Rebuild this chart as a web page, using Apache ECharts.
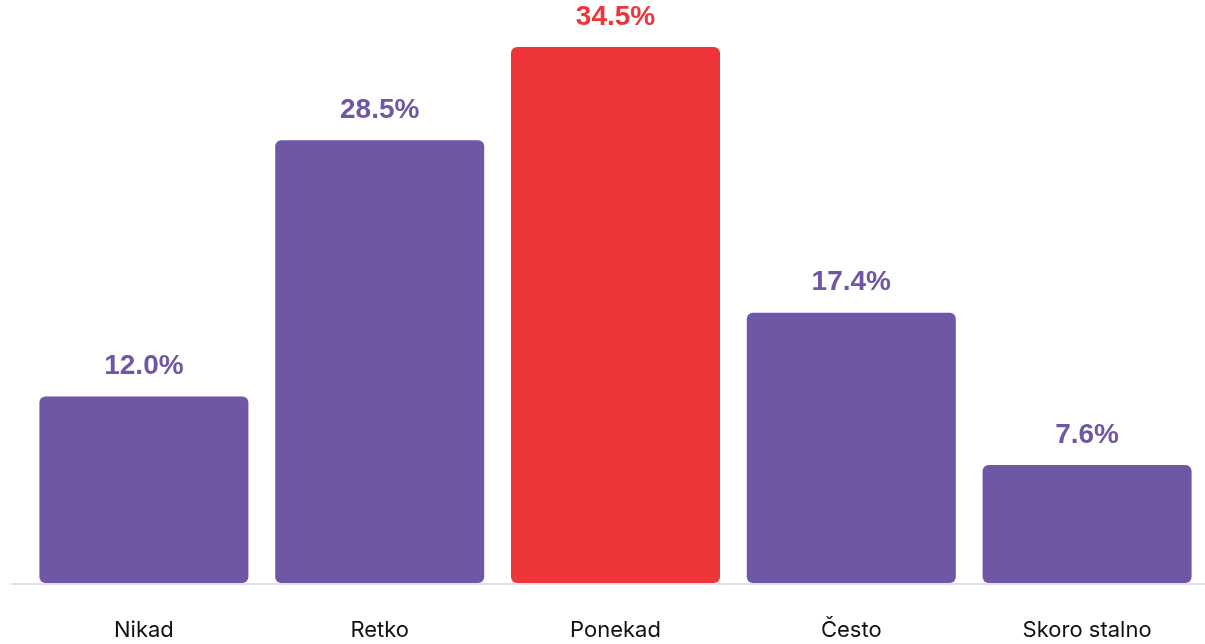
<!DOCTYPE html>
<html><head><meta charset="utf-8">
<style>html,body{margin:0;padding:0;background:#fff}#c{width:1205px;height:644px}</style>
<script src="https://cdn.jsdelivr.net/npm/echarts@6/dist/echarts.min.js"></script>
</head><body><div id="c"></div>
<script>
const categories = ['Nikad', 'Retko', 'Ponekad', 'Često', 'Skoro stalno'];
const values = [12.0, 28.5, 34.5, 17.4, 7.6];
const highlightIndex = 2;
const purple = '#6f57a6', red = '#ee3539';
const chart = echarts.init(document.getElementById('c'));
chart.setOption({
  animation: false,
  grid: [
    {left: 26, right: 0, top: 47, bottom: 61, containLabel: false},
    {left: 12, right: 0, top: 47, bottom: 60, containLabel: false}
  ],
  xAxis: [
    {type: 'category', data: categories, gridIndex: 0,
     axisLine: {show: false}, axisTick: {show: false},
     axisLabel: {color: '#111', fontSize: 22, fontFamily: 'Inter', margin: 36}},
    {type: 'category', data: [''], gridIndex: 1,
     axisLine: {show: true, lineStyle: {color: '#e2def0', width: 2}},
     axisTick: {show: false}, axisLabel: {show: false}}
  ],
  yAxis: [
    {type: 'value', min: 0, max: 34.5, show: false, gridIndex: 0, splitLine: {show: false}},
    {type: 'value', show: false, gridIndex: 1, splitLine: {show: false}}
  ],
  series: [{
    type: 'bar', xAxisIndex: 0, yAxisIndex: 0,
    barWidth: 209,
    data: values.map((v, i) => ({
      value: v,
      itemStyle: {color: i === highlightIndex ? red : purple, borderRadius: 6},
      label: {color: i === highlightIndex ? red : purple}
    })),
    label: {show: true, position: 'top', distance: 16, fontSize: 28, fontWeight: 'bold',
      fontFamily: 'Liberation Sans, Arial', formatter: p => p.value.toFixed(1) + '%'}
  }]
});
</script></body></html>
